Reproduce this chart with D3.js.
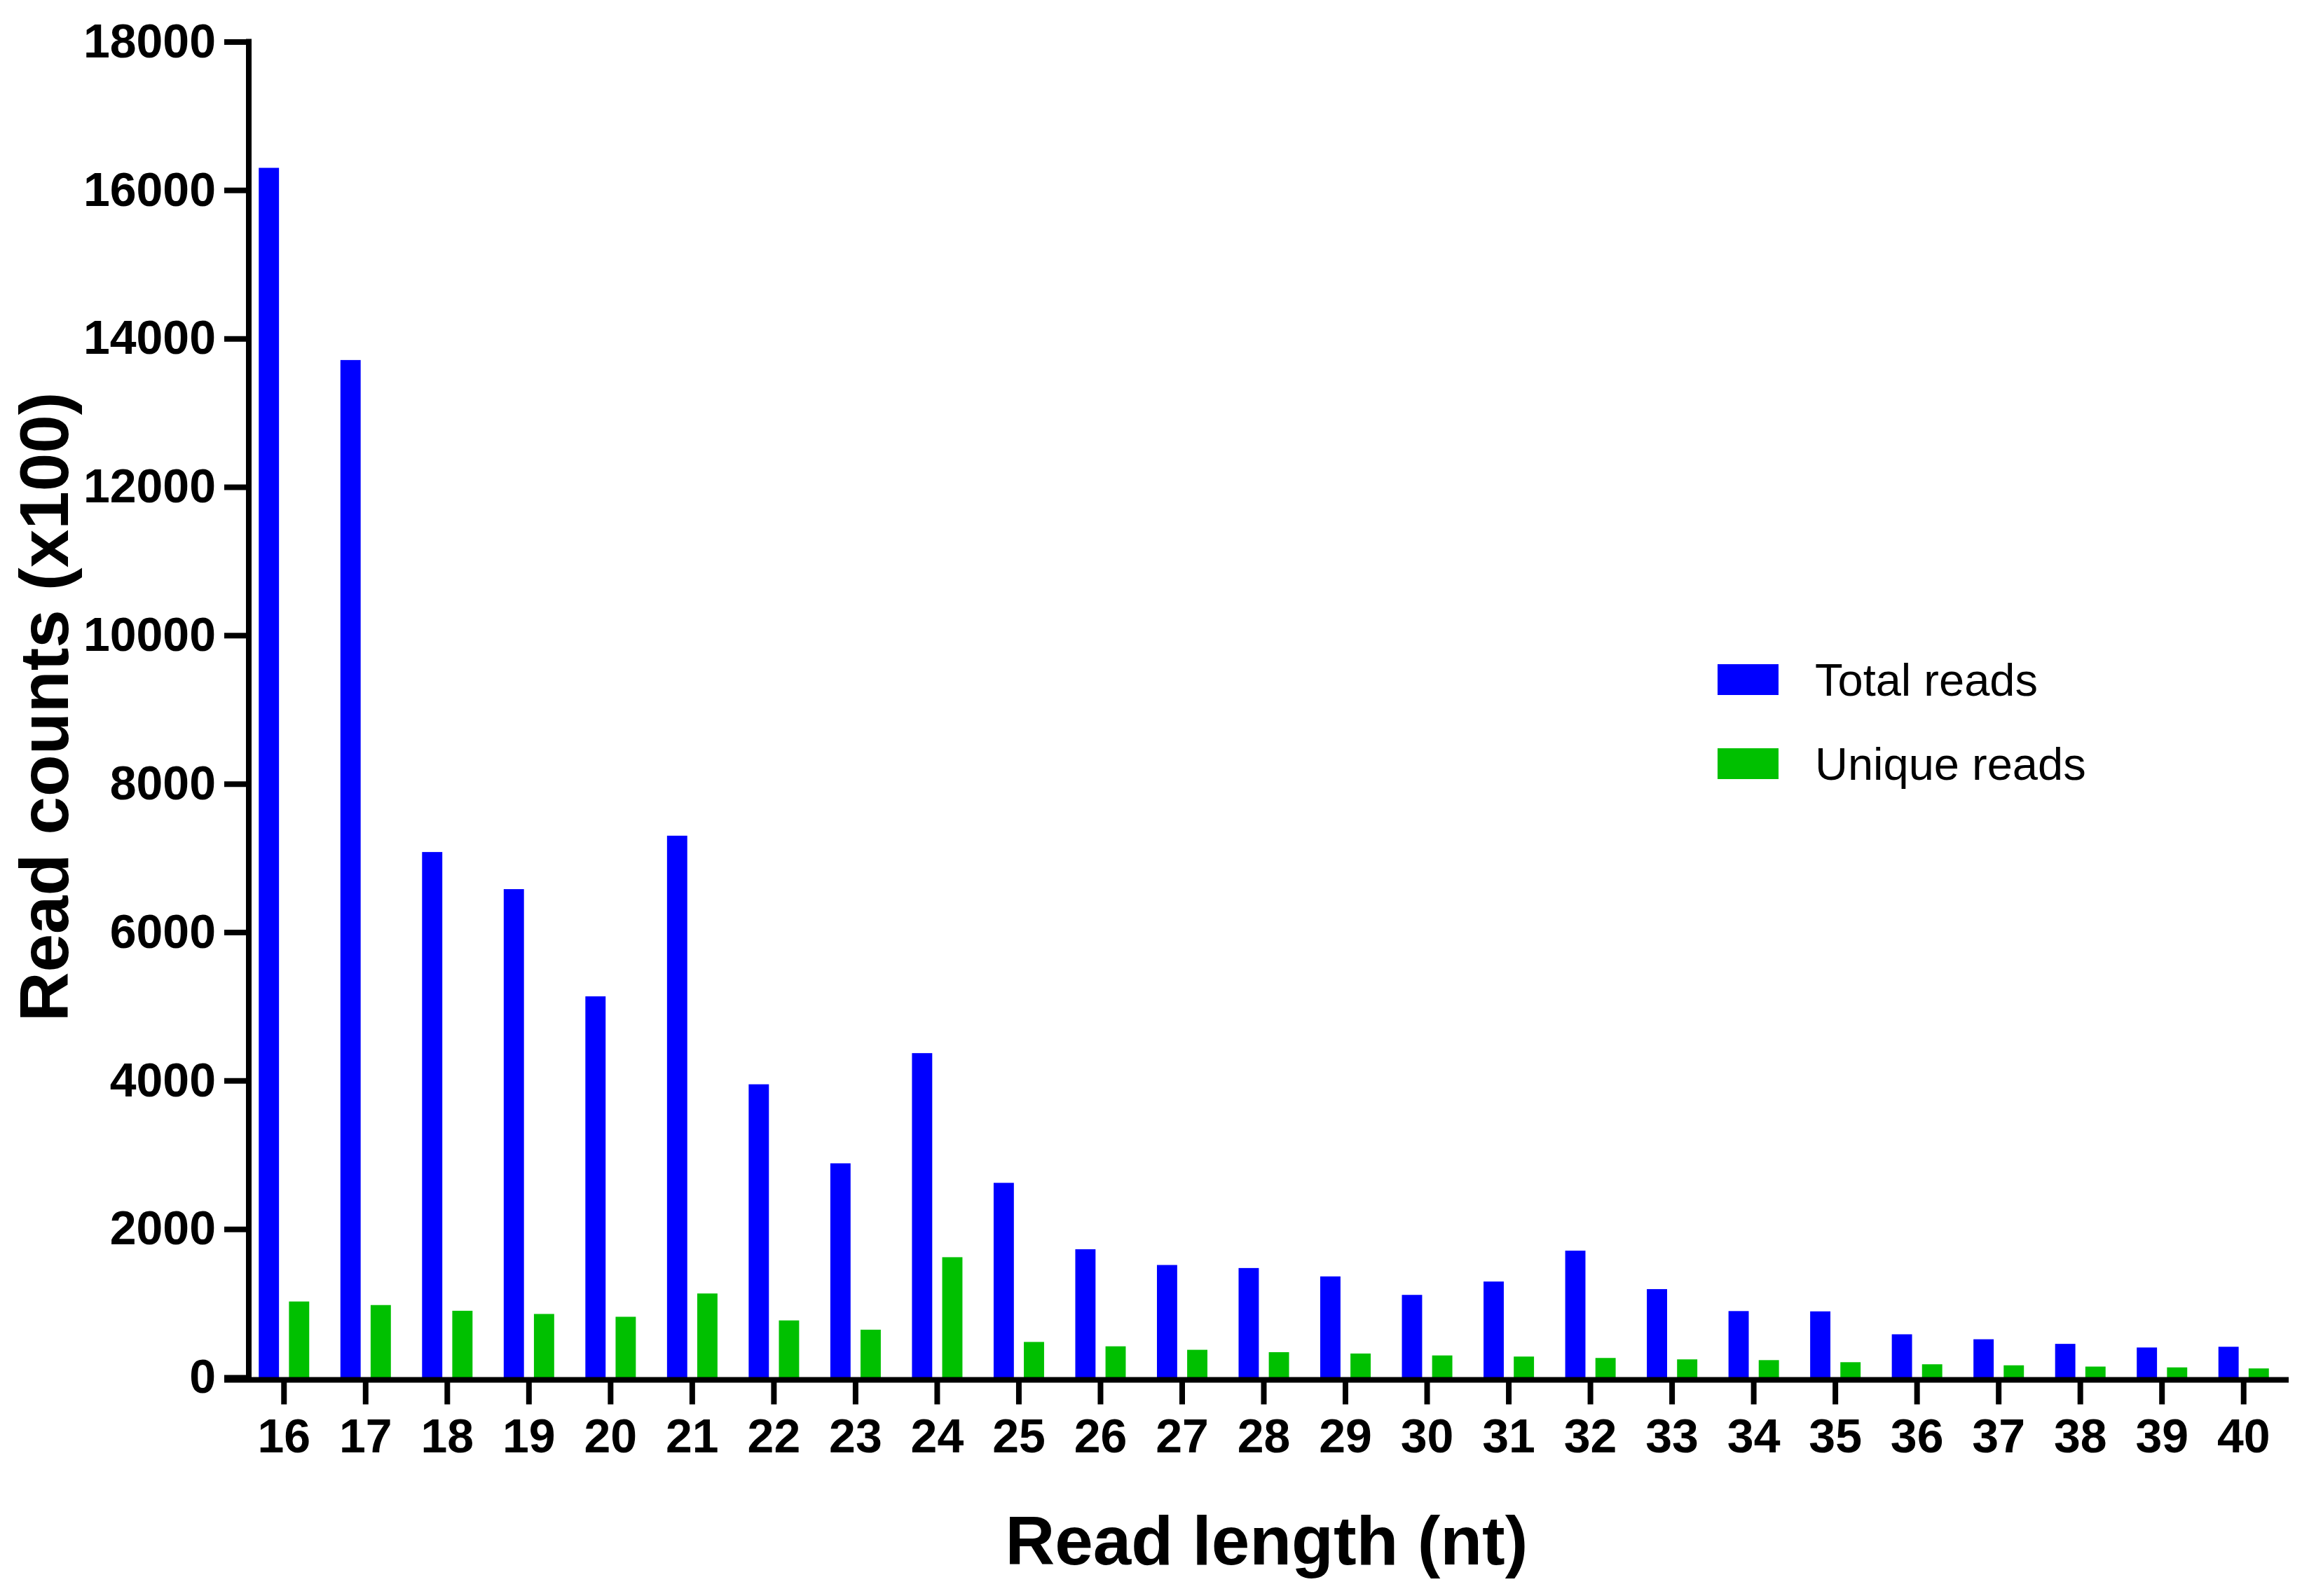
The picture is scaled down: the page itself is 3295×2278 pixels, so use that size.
<!DOCTYPE html>
<html>
  <head>
    <meta charset="utf-8" />
    <style>
      body {
        margin: 0;
        background: #fff;
      }
      svg {
        display: block;
        font-family: "Liberation Sans", Arial, sans-serif;
      }
    </style>
  </head>
  <body>
    <svg id="chart"></svg>

    <script src="https://d3js.org/d3.v7.min.js"></script>

    <script>
      // read lengths (nt)
      const lengths = [
        "16", "17", "18", "19", "20", "21", "22", "23", "24", "25", "26", "27", "28",
        "29", "30", "31", "32", "33", "34", "35", "36", "37", "38", "39", "40",
      ];

      // read counts (x100)
      const total_reads = [
        16300, 13710, 7080, 6580, 5135, 7300, 3950, 2885, 4370, 2622, 1727, 1515, 1474,
        1361, 1112, 1292, 1708, 1190, 894, 890, 581, 514, 452, 403, 413,
      ];
      const unique_reads = [
        1023, 975, 898, 855, 817, 1131, 768, 643, 1620, 478, 419, 372, 340,
        322, 296, 281, 262, 243, 233, 205, 177, 163, 146, 135, 121,
      ];

      const series = ["Total reads", "Unique reads"];
      const y_ticks = [0, 2000, 4000, 6000, 8000, 10000, 12000, 14000, 16000, 18000];

      const width = 3295;
      const height = 2278;
      const marginLeft = 355;
      const marginTop = 59.5;
      const plotBottom = 1966;
      const bandLeft = 347;
      const bandRight = 3260;
      const tickLen = 35;
      const stroke = 8;

      const color = d3.scaleOrdinal().domain(series).range(["#0000ff", "#00c000"]);

      const data = lengths.map((len, i) => ({
        len,
        values: [
          { key: series[0], value: total_reads[i] },
          { key: series[1], value: unique_reads[i] },
        ],
      }));

      const svg = d3
        .select("#chart")
        .attr("width", width)
        .attr("height", height)
        .attr("viewBox", [0, 0, width, height]);

      // scales
      const x = d3
        .scaleBand()
        .domain(lengths)
        .range([bandLeft, bandRight])
        .paddingInner(0.382)
        .paddingOuter(0.191);

      const xSub = d3
        .scaleBand()
        .domain(series)
        .range([0, x.bandwidth()])
        .paddingInner(0.33);

      const y = d3
        .scaleLinear()
        .domain([0, 18000])
        .range([plotBottom, marginTop]);

      // bars
      svg
        .append("g")
        .selectAll("g")
        .data(data)
        .join("g")
        .attr("transform", (d) => `translate(${x(d.len)},0)`)
        .selectAll("rect")
        .data((d) => d.values)
        .join("rect")
        .attr("x", (d) => xSub(d.key))
        .attr("y", (d) => y(d.value))
        .attr("width", xSub.bandwidth())
        .attr("height", (d) => y(0) - y(d.value))
        .attr("fill", (d) => color(d.key));

      // x axis (line sits a little below the bar baseline)
      const xAxisY = plotBottom + 3.5;
      const gx = svg
        .append("g")
        .attr("transform", `translate(0,${xAxisY})`)
        .call(
          d3
            .axisBottom(x)
            .tickSize(tickLen)
            .tickSizeOuter(0)
            .tickPadding(20)
        );
      gx.select(".domain").remove();
      gx.append("line")
        .attr("x1", marginLeft - tickLen)
        .attr("x2", bandRight + 6)
        .attr("stroke", "#000")
        .attr("stroke-width", stroke);
      gx.selectAll(".tick line").attr("stroke", "#000").attr("stroke-width", stroke);
      gx.selectAll(".tick text")
        .attr("fill", "#000")
        .attr("font-size", 68)
        .attr("font-weight", "bold")
        .attr("font-family", "'Liberation Sans', Arial, sans-serif");

      // y axis
      const gy = svg
        .append("g")
        .attr("transform", `translate(${marginLeft},0)`)
        .call(
          d3
            .axisLeft(y)
            .tickValues(y_ticks)
            .tickFormat(d3.format("d"))
            .tickSize(tickLen)
            .tickSizeOuter(0)
            .tickPadding(12)
        );
      gy.select(".domain")
        .attr("stroke", "#000")
        .attr("stroke-width", stroke)
        .attr("d", `M0,${y(18000) - stroke / 2}V${xAxisY}`);
      gy.selectAll(".tick line").attr("stroke", "#000").attr("stroke-width", stroke);
      gy.selectAll(".tick text")
        .attr("fill", "#000")
        .attr("font-size", 68)
        .attr("font-weight", "bold")
        .attr("font-family", "'Liberation Sans', Arial, sans-serif");

      // axis titles
      svg
        .append("text")
        .attr("transform", `translate(97,1009) rotate(-90)`)
        .attr("text-anchor", "middle")
        .attr("font-size", 98)
        .attr("font-weight", "bold")
        .text("Read counts (x100)");

      svg
        .append("text")
        .attr("x", (marginLeft + bandRight) / 2)
        .attr("y", 2233)
        .attr("text-anchor", "middle")
        .attr("font-size", 98)
        .attr("font-weight", "bold")
        .text("Read length (nt)");

      // legend
      const legend = svg
        .append("g")
        .attr("transform", "translate(2451,948)")
        .selectAll("g")
        .data(series)
        .join("g")
        .attr("transform", (d, i) => `translate(0,${i * 120})`);

      legend
        .append("rect")
        .attr("width", 87)
        .attr("height", 44)
        .attr("fill", (d) => color(d));

      legend
        .append("text")
        .attr("x", 139)
        .attr("y", 45)
        .attr("font-size", 65)
        .attr("fill", "#000")
        .text((d) => d);
    </script>
  </body>
</html>
